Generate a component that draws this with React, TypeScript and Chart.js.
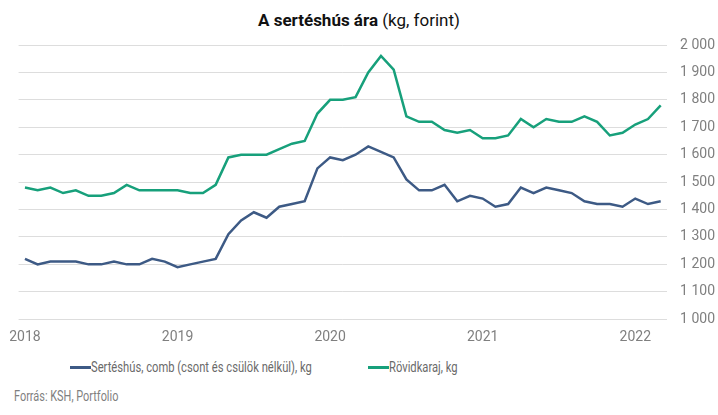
import React, { useEffect, useRef } from 'react';
import Chart from 'chart.js/auto';

// === Data (Jan 2018 – Mar 2022, monthly) ===
const MONTHS = [
  '2018-01', '2018-02', '2018-03', '2018-04', '2018-05', '2018-06', '2018-07', '2018-08', '2018-09', '2018-10', '2018-11', '2018-12',
  '2019-01', '2019-02', '2019-03', '2019-04', '2019-05', '2019-06', '2019-07', '2019-08', '2019-09', '2019-10', '2019-11', '2019-12',
  '2020-01', '2020-02', '2020-03', '2020-04', '2020-05', '2020-06', '2020-07', '2020-08', '2020-09', '2020-10', '2020-11', '2020-12',
  '2021-01', '2021-02', '2021-03', '2021-04', '2021-05', '2021-06', '2021-07', '2021-08', '2021-09', '2021-10', '2021-11', '2021-12',
  '2022-01', '2022-02', '2022-03',
];

const COMB = [
  1220, 1200, 1210, 1210, 1210, 1200, 1200, 1210, 1200, 1200, 1220, 1210,
  1190, 1200, 1210, 1220, 1310, 1360, 1390, 1370, 1410, 1420, 1430, 1550,
  1590, 1580, 1600, 1630, 1610, 1590, 1510, 1470, 1470, 1490, 1430, 1450,
  1440, 1410, 1420, 1480, 1460, 1480, 1470, 1460, 1430, 1420, 1420, 1410,
  1440, 1420, 1430,
];

const KARAJ = [
  1480, 1470, 1480, 1460, 1470, 1450, 1450, 1460, 1490, 1470, 1470, 1470,
  1470, 1460, 1460, 1490, 1590, 1600, 1600, 1600, 1620, 1640, 1650, 1750,
  1800, 1800, 1810, 1900, 1960, 1910, 1740, 1720, 1720, 1690, 1680, 1690,
  1660, 1660, 1670, 1730, 1700, 1730, 1720, 1720, 1740, 1720, 1670, 1680,
  1710, 1730, 1780,
];

const SERIES = [
  { label: 'Sertéshús, comb (csont és csülök nélkül), kg', data: COMB, color: '#3d5a85' },
  { label: 'Rövidkaraj, kg', data: KARAJ, color: '#17a07b' },
];

const FONT = 'Roboto, "Noto Sans", sans-serif';
const GRAY = '#7f7f7f';

const fmt = (v: number) => String(v).replace(/\B(?=(\d{3})+(?!\d))/g, ' ');

const App: React.FC = () => {
  const canvasRef = useRef<HTMLCanvasElement>(null);

  useEffect(() => {
    if (!canvasRef.current) return;
    const chart = new Chart(canvasRef.current, {
      type: 'line',
      data: {
        labels: MONTHS,
        datasets: SERIES.map(s => ({
          label: s.label,
          data: s.data,
          borderColor: s.color,
          backgroundColor: s.color,
          borderWidth: 2.5,
          pointRadius: 0,
          tension: 0,
        })),
      },
      options: {
        animation: false,
        responsive: false,
        maintainAspectRatio: false,
        layout: { padding: { top: 45, left: 18.6, right: 2, bottom: 6 } },
        plugins: {
          legend: { display: false },
          tooltip: { enabled: false },
        },
        scales: {
          x: {
            offset: true,
            grid: { display: false },
            border: { display: false },
            ticks: {
              autoSkip: false,
              maxRotation: 0,
              padding: 2,
              color: GRAY,
              font: { family: FONT, size: 14 },
              callback: (_v, i) => (MONTHS[i].endsWith('-01') ? MONTHS[i].slice(0, 4) : ''),
            },
          },
          y: {
            position: 'right',
            min: 1000,
            max: 2000,
            grid: { color: '#dddddd', lineWidth: 1, drawTicks: false },
            border: { display: false },
            ticks: {
              stepSize: 100,
              padding: 13,
              color: GRAY,
              font: { family: FONT, size: 14 },
              callback: v => fmt(Number(v)),
            },
          },
        },
      },
    });
    return () => chart.destroy();
  }, []);

  return (
    <div style={{ position: 'absolute', left: 0, top: 0, width: 718, height: 415, background: '#fff', fontFamily: FONT, overflow: 'hidden' }}>
      <div style={{ position: 'absolute', top: 9, left: 0, width: 718, textAlign: 'center', fontSize: 17, color: '#111', lineHeight: '22px' }}>
        <b>A sertéshús ára</b> (kg, forint)
      </div>
      <canvas ref={canvasRef} width={730} height={354} style={{ position: 'absolute', left: 0, top: 0, width: 730, height: 354 }} />
      {SERIES.map((s, i) => (
        <div key={s.label} style={{ position: 'absolute', top: 357, left: i === 0 ? 70 : 368, height: 20, display: 'flex', alignItems: 'center', whiteSpace: 'nowrap' }}>
          <div style={{ width: 21, height: 3, background: s.color }} />
          <span style={{ display: 'inline-block', fontSize: 14, color: '#6a6a6a', transform: 'scaleX(0.8)', transformOrigin: 'left center' }}>{s.label}</span>
        </div>
      ))}
      <div style={{ position: 'absolute', top: 388, left: 14, fontSize: 14, color: GRAY, whiteSpace: 'nowrap', transform: 'scaleX(0.78)', transformOrigin: 'left center' }}>
        Forrás: KSH, Portfolio
      </div>
    </div>
  );
};

export default App;
